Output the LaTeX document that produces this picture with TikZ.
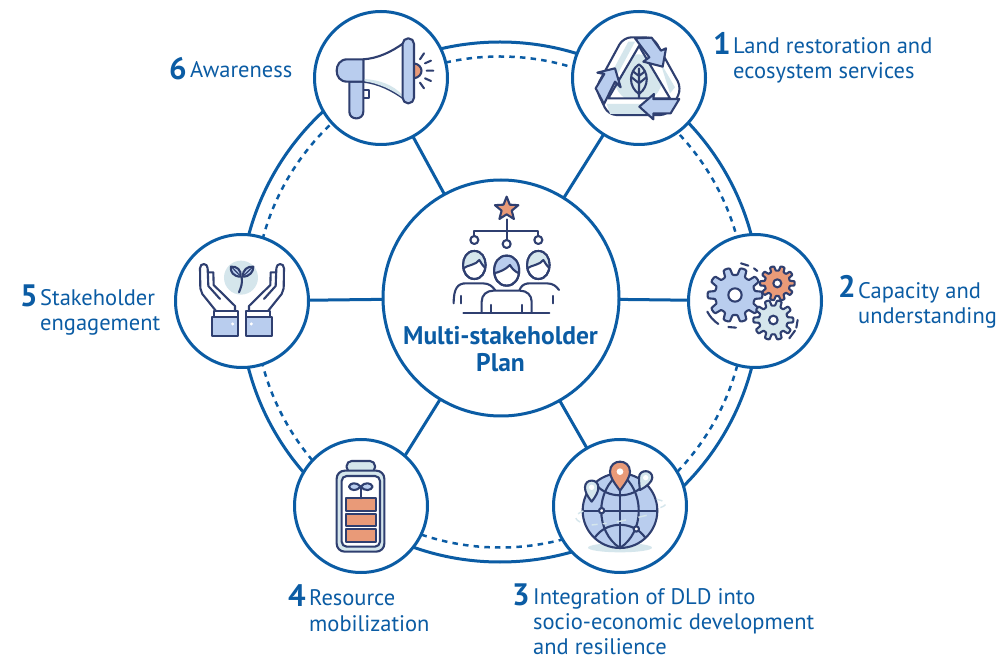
\documentclass[tikz,border=0pt]{standalone}
\usepackage{fontspec}
\setmainfont{PT Sans}
\definecolor{mainblue}{HTML}{0B5CA4}
\definecolor{navy}{HTML}{2F3F70}
\definecolor{lblue}{HTML}{B9CDEE}
\definecolor{orng}{HTML}{E99A78}
\definecolor{pale}{HTML}{D5E6EC}
\tikzset{
  ringline/.style={draw=mainblue,line width=3pt},
  ringdash/.style={draw=mainblue,line width=2.5pt,dash pattern=on 5.5pt off 5.2pt},
  spoke/.style={draw=mainblue,line width=3pt,shorten <=-1pt,shorten >=-1pt},
  hubnode/.style={circle,draw=mainblue,fill=white,line width=3pt,minimum size=236pt,inner sep=0pt},
  topic/.style={circle,draw=mainblue,fill=white,line width=3pt,minimum size=133pt,inner sep=0pt},
  num/.style={anchor=base west,inner sep=0pt,text=mainblue,font=\fontsize{31}{31}\selectfont\bfseries},
  lab/.style={anchor=base west,inner sep=0pt,text=mainblue,align=left,font=\fontsize{22.5}{25.5}\selectfont},
  hubtext/.style={inner sep=0pt,text=mainblue,align=center,font=\fontsize{25.5}{27}\selectfont\bfseries},
  ic/.style={draw=navy,line width=2.1pt,line join=round,line cap=round},
  zoomed/.style={x=0.3333pt,y=-0.3333pt}
}
\newcommand{\gearshape}[6]{%
  \path[ic,fill=#6] plot[domain=0:360,samples=#5*10+1] ({#1+(#4+(#3-#4)*max(0,min(1,0.5+1.3*cos(#5*\x))))*cos(\x)},{#2+(#4+(#3-#4)*max(0,min(1,0.5+1.3*cos(#5*\x))))*sin(\x)}) -- cycle;
}
\begin{document}
\begin{tikzpicture}[x=1pt,y=-1pt]
\useasboundingbox (0,0) rectangle (1005,660);
\fill[white] (0,0) rectangle (1005,660);
\coordinate (ringc) at (500,302);
\draw[ringline] (ringc) circle[radius=260];
\draw[ringdash] (ringc) circle[radius=245.5];
\node[hubnode] (hub) at (501,298) {};
\node[topic] (n1) at (639,78) {};
\node[topic] (n2) at (755,301) {};
\node[topic] (n3) at (620,506) {};
\node[topic] (n4) at (361,506) {};
\node[topic] (n5) at (242,301) {};
\node[topic] (n6) at (381,78) {};
\foreach \t in {n1,n2,n3,n5,n6}{\draw[spoke] (hub) -- (\t);}
\draw[spoke] (hub.239.6) -- (n4.49);

% icon 1: recycle
\begin{scope}[shift={(560,0)},zoomed]
  \path[fill=white,ic,rounded corners=8pt] (190,112) -- (280,112) -- (365,265) -- (325,345) -- (145,345) -- (107,265) -- cycle;
  \fill[pale] (140,312) -- (320,312) -- (325,342) -- (150,342) -- cycle;
  \fill[pale] (205,125) -- (225,125) -- (150,265) -- (130,265) -- cycle;
  \fill[pale] (300,185) -- (345,262) -- (330,280) -- cycle;
  \begin{scope}
    \clip (237,138) -- (330,295) -- (145,295) -- cycle;
    \fill[pale] (235,235) circle[radius=72];
  \end{scope}
  \draw[ic] (237,138) -- (330,295) -- (145,295) -- cycle;
  \path[ic,fill=lblue,line join=round] (225,115) -- (275,113) -- (303,152) -- (318,145) -- (308,200) -- (250,185) -- (268,172) -- cycle;
  \path[ic,fill=lblue] (132,312) -- (107,265) -- (133,222) -- (112,218) -- (165,205) -- (182,262) -- (165,245) -- cycle;
  \path[ic,fill=lblue] (358,297) -- (280,297) -- (282,282) -- (238,320) -- (280,358) -- (280,340) -- (332,340) -- cycle;
  \path[ic,fill=pale] (237,193) .. controls (205,215) and (205,260) .. (237,282) .. controls (268,260) and (268,215) .. (237,193) -- cycle;
  \draw[ic] (237,205) -- (237,295) (237,228) -- (220,215) (237,228) -- (254,215) (237,250) -- (215,232) (237,250) -- (259,232);
\end{scope}

% icon 6: megaphone
\begin{scope}[shift={(300,0)},zoomed]
  \fill[orng] (342,190) .. controls (372,195) and (372,230) .. (342,235) -- cycle;
  \draw[ic] (342,190) .. controls (372,195) and (372,230) .. (342,235);
  \draw[ic] (360,178) -- (372,160) (375,190) -- (393,182) (380,212) -- (400,212) (375,235) -- (393,243) (360,248) -- (372,265);
  \path[ic,fill=white] (190,178) .. controls (235,175) and (275,155) .. (310,130) -- (310,295) .. controls (275,270) and (235,250) .. (190,245) -- cycle;
  \fill[pale] (193,237) .. controls (240,240) and (280,255) .. (307,285) -- (307,292) .. controls (275,268) and (235,250) .. (193,244) -- cycle;
  \draw[ic] (190,270) rectangle (208,295);
  \path[ic,fill=lblue] (148,245) -- (148,335) .. controls (148,362) and (190,362) .. (190,335) -- (190,245) -- cycle;
  \path[ic,fill=lblue] (190,178) -- (142,178) .. controls (120,178) and (110,195) .. (110,212) .. controls (110,230) and (120,245) .. (142,245) -- (190,245) -- cycle;
  \path[ic,fill=lblue,rounded corners=5.5pt] (308,115) rectangle (342,310);
\end{scope}

% icon 2: gears
\begin{scope}[shift={(680,230)},zoomed]
  \gearshape{165}{195}{82}{60}{10}{lblue}
  \path[ic,fill=white] (165,195) circle[radius=20];
  \gearshape{292}{160}{52}{38}{10}{orng}
  \path[ic,fill=white] (292,160) circle[radius=12];
  \gearshape{280}{270}{60}{43}{10}{pale}
  \path[ic,fill=white] (280,270) circle[radius=13];
  \draw[ic] (82,245) .. controls (90,260) and (100,272) .. (115,282) (145,291) -- (168,293) (183,100) -- (205,107) (222,115) -- (232,123) (353,270) -- (349,293) (345,302) -- (328,325);
\end{scope}

% icon 5: hands
\begin{scope}[shift={(170,230)},zoomed]
  \fill[pale] (213,143) circle[radius=51];
  \draw[ic] (215,142) .. controls (218,160) and (213,172) .. (207,187);
  \path[ic,fill=lblue] (212,140) .. controls (190,140) and (180,125) .. (183,110) .. controls (200,108) and (215,120) .. (212,140) -- cycle;
  \path[ic,fill=lblue] (218,140) .. controls (240,140) and (250,125) .. (250,110) .. controls (232,108) and (218,120) .. (218,140) -- cycle;
  \draw[ic,line width=1.2pt] (188,114) -- (208,135) (245,114) -- (223,135);
\end{scope}
\foreach \ox/\sx in {170/0.3333,314/-0.3333}{
\begin{scope}[shift={(\ox,230)},x=\sx pt,y=-0.3333pt]
  \draw[ic] (138,243) -- (97,192) -- (91,175) -- (90,115) .. controls (90,98) and (113,98) .. (113,115) -- (115,168) -- (150,207);
  \draw[ic] (113,127) -- (130,127) -- (131,165) -- (195,228) -- (195,243);
  \path[ic,fill=white] (132,243) rectangle (203,262);
  \path[ic,fill=lblue] (125,262) rectangle (205,318);
  \fill[white] (188,282) circle[radius=5];
\end{scope}}

% icon 4: battery
\begin{scope}[shift={(290,440)},zoomed]
  \path[ic,fill=pale,rounded corners=5pt] (170,97) -- (170,63) -- (255,63) -- (255,97) -- cycle;
  \path[ic,fill=pale,rounded corners=8pt] (140,92) rectangle (283,335);
  \path[ic,fill=white,rounded corners=5pt] (155,108) rectangle (270,320);
  \path[ic,fill=orng] (168,175) rectangle (257,213);
  \path[ic,fill=orng] (168,222) rectangle (257,259);
  \path[ic,fill=orng] (168,268) rectangle (257,305);
  \draw[ic] (212,175) -- (212,140);
  \path[ic,fill=lblue] (212,140) .. controls (200,125) and (180,128) .. (177,140) .. controls (180,152) and (200,155) .. (212,140) -- cycle;
  \path[ic,fill=lblue] (212,140) .. controls (224,125) and (244,128) .. (248,140) .. controls (244,152) and (224,155) .. (212,140) -- cycle;
\end{scope}

% icon 3: globe
\begin{scope}[shift={(550,440)},zoomed]
  \fill[pale] (210,323) ellipse[x radius=96,y radius=14];
  \path[ic,fill=lblue] (210,212) circle[radius=112];
  \draw[ic] (210,100) .. controls (135,150) and (135,275) .. (210,324) .. controls (285,275) and (285,150) .. (210,100);
  \draw[ic] (210,100) -- (210,324) (98,212) -- (322,212);
  \draw[ic] (135,130) .. controls (170,178) and (250,178) .. (285,130);
  \draw[ic] (135,292) .. controls (170,242) and (250,242) .. (285,292);
  \draw[pale,line width=1.4pt,dash pattern=on 6pt off 5pt] (100,213) .. controls (70,225) and (70,240) .. (100,250) (125,255) -- (170,250);
  \draw[pale,line width=1.4pt] (200,246) -- (228,240) (265,232) -- (290,226);
  \draw[pale,line width=1.4pt,dash pattern=on 6pt off 5pt] (320,178) .. controls (355,185) and (355,198) .. (322,205);
  \path[ic,fill=white] (155,212) circle[radius=8];
  \path[ic,fill=white] (259,267) circle[radius=8];
  \path[ic,fill=pale] (125,185) .. controls (110,165) and (105,155) .. (105,142) .. controls (105,115) and (145,115) .. (145,142) .. controls (145,155) and (140,165) .. (125,185) -- cycle;
  \fill[white] (125,142) circle[radius=8];
  \path[ic,fill=pale] (270,150) .. controls (268,135) and (267,125) .. (267,113) .. controls (267,87) and (307,87) .. (307,113) .. controls (307,125) and (290,140) .. (270,150) -- cycle;
  \fill[white] (287,113) circle[radius=8];
  \path[ic,fill=orng] (210,152) .. controls (190,125) and (180,110) .. (180,95) .. controls (180,55) and (240,55) .. (240,95) .. controls (240,110) and (230,125) .. (210,152) -- cycle;
  \fill[white] (210,95) circle[radius=10];
\end{scope}

% hub icon
\begin{scope}[shift={(430,190)},zoomed]
  \path[ic,fill=orng] plot[samples=10,domain=0:9] ({230+(mod(\x,2)==0?37:16)*sin(36*\x)},{57-(mod(\x,2)==0?37:16)*cos(36*\x)}) -- cycle;
  \draw[ic] (230,88) -- (230,150) (133,138) -- (133,122) -- (325,122) -- (325,138);
  \path[ic,fill=white] (133,150) circle[radius=12];
  \path[ic,fill=white] (230,162) circle[radius=12];
  \path[ic,fill=white] (325,150) circle[radius=12];
  \foreach \px in {133,325}{
    \draw[ic] (\px-62,340) .. controls (\px-62,295) and (\px-50,280) .. (\px-25,280) -- (\px+25,280) .. controls (\px+45,280) and (\px+55,290) .. (\px+62,300);
    \path[ic,fill=white] (\px,183) .. controls (\px-45,183) and (\px-45,267) .. (\px,267) .. controls (\px+45,267) and (\px+45,183) .. (\px,183) -- cycle;
    \path[fill=pale] (\px-33,235) .. controls (\px-40,205) and (\px-20,186) .. (\px,186) .. controls (\px+20,186) and (\px+40,205) .. (\px+33,235) .. controls (\px+25,225) and (\px+20,220) .. (\px+15,210) .. controls (\px+5,225) and (\px-20,225) .. (\px-33,235) -- cycle;
    \draw[ic] (\px,183) .. controls (\px-45,183) and (\px-45,267) .. (\px,267) .. controls (\px+45,267) and (\px+45,183) .. (\px,183) -- cycle;
    \draw[ic] (\px-33,235) .. controls (\px-20,225) and (\px+5,225) .. (\px+15,210) .. controls (\px+20,220) and (\px+25,225) .. (\px+33,235);
  }
  \draw[ic] (92,318) -- (92,340) (172,318) -- (172,340) (288,318) -- (288,340) (368,318) -- (368,340);
  \path[ic,fill=white] (155,368) -- (155,335) .. controls (155,315) and (170,302) .. (190,302) -- (270,302) .. controls (290,302) and (305,315) .. (305,335) -- (305,368);
  \draw[ic] (183,345) -- (183,368) (275,345) -- (275,368);
  \path[ic,fill=white] (230,197) .. controls (180,197) and (180,287) .. (230,287) .. controls (280,287) and (280,197) .. (230,197) -- cycle;
  \path[fill=lblue] (193,250) .. controls (185,215) and (205,200) .. (230,200) .. controls (255,200) and (275,215) .. (267,250) .. controls (255,245) and (245,235) .. (240,225) .. controls (225,240) and (210,245) .. (193,250) -- cycle;
  \draw[ic] (230,197) .. controls (180,197) and (180,287) .. (230,287) .. controls (280,287) and (280,197) .. (230,197) -- cycle;
  \draw[ic] (193,250) .. controls (210,245) and (225,240) .. (240,225) .. controls (245,235) and (255,245) .. (267,250);
  \draw[ic] (100,368) -- (358,368);
\end{scope}

% texts
\node[hubtext] (hubt) at (500.5,349) {Multi-stakeholder\\Plan};
\node[num] (l1n) at (713,55) {1};
\node[lab] (l1) at (733,79) {Land restoration and\\ecosystem services};
\node[num] (l2n) at (838,298) {2};
\node[lab] (l2) at (858,324) {Capacity and\\understanding};
\node[num] (l3n) at (512,605) {3};
\node[lab,font=\fontsize{22.5}{25}\selectfont] (l3) at (533,654) {Integration of DLD into\\socio-economic development\\and resilience};
\node[num] (l4n) at (288,606) {4};
\node[lab] (l4) at (309,631) {Resource\\mobilization};
\node[num] (l5n) at (20,307) {5};
\node[lab] (l5) at (40,331) {Stakeholder\\engagement};
\node[num] (l6n) at (169,80) {6};
\node[lab] (l6) at (190,78) {Awareness};
\end{tikzpicture}
\end{document}
